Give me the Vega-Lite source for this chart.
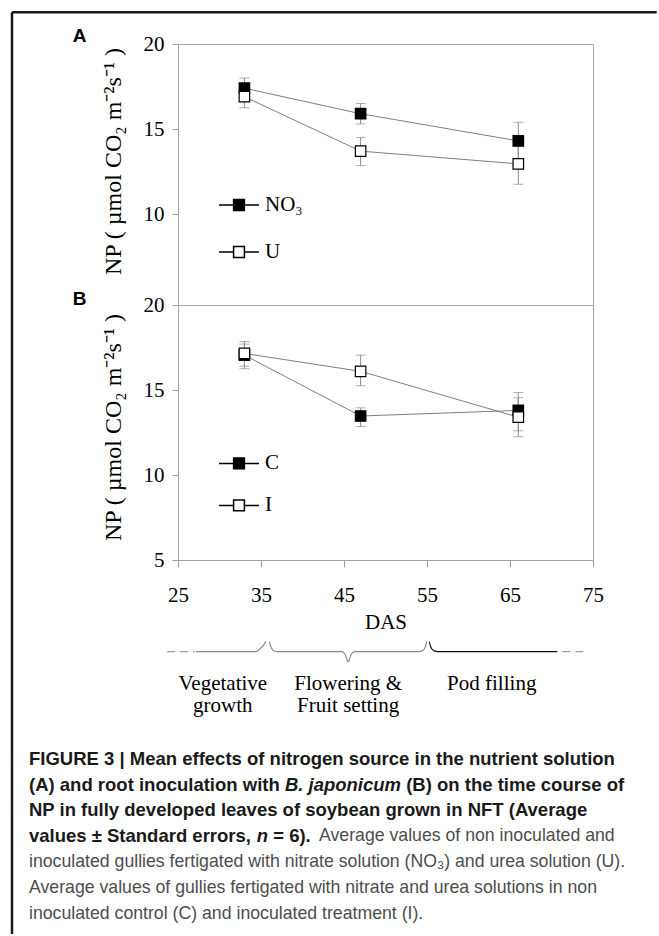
{
  "$schema": "https://vega.github.io/schema/vega-lite/v6.json",
  "background": "white",
  "padding": {"left": 10, "top": 10, "right": 0, "bottom": 0},
  "bounds": "flush",
  "spacing": 0,
  "resolve": {"scale": {"fill": "independent"}, "legend": {"fill": "independent"}},
  "config": {
    "view": {"stroke": "#a8a8a8", "strokeWidth": 1},
    "axis": {"domainColor": "#a0a0a0", "tickColor": "#a0a0a0", "labelColor": "#000", "labelFont": "Liberation Serif", "labelFontSize": 21, "titleFont": "Liberation Serif", "titleFontSize": 21, "titleFontWeight": "normal", "titleColor": "#000", "grid": false, "labelFlush": false}
  },
  "datasets": {
    "np": [
      {"panel": "A", "series": "NO₃", "das": 33, "np": 17.4, "lo": 16.8, "hi": 18.0},
      {"panel": "A", "series": "NO₃", "das": 47, "np": 15.9, "lo": 15.3, "hi": 16.5},
      {"panel": "A", "series": "NO₃", "das": 66, "np": 14.3, "lo": 13.2, "hi": 15.4},
      {"panel": "A", "series": "U", "das": 33, "np": 16.9, "lo": 16.25, "hi": 17.55},
      {"panel": "A", "series": "U", "das": 47, "np": 13.7, "lo": 12.85, "hi": 14.5},
      {"panel": "A", "series": "U", "das": 66, "np": 12.95, "lo": 11.75, "hi": 14.1},
      {"panel": "B", "series": "C", "das": 33, "np": 17.05, "lo": 16.25, "hi": 17.7},
      {"panel": "B", "series": "C", "das": 47, "np": 13.47, "lo": 12.85, "hi": 13.95},
      {"panel": "B", "series": "C", "das": 66, "np": 13.8, "lo": 12.6, "hi": 14.85},
      {"panel": "B", "series": "I", "das": 33, "np": 17.15, "lo": 16.4, "hi": 17.85},
      {"panel": "B", "series": "I", "das": 47, "np": 16.1, "lo": 15.25, "hi": 17.05},
      {"panel": "B", "series": "I", "das": 66, "np": 13.4, "lo": 12.25, "hi": 14.55}
    ],
    "brace": [
      {"phase": "before", "das": 23.7, "y": 0},
      {"phase": "before", "das": 27.0, "y": 0},
      {"phase": "Vegetative growth", "das": 27.17, "y": 0},
      {"phase": "Vegetative growth", "das": 34.3, "y": 0},
      {"phase": "Vegetative growth", "das": 34.9, "y": 0.3},
      {"phase": "Vegetative growth", "das": 35.6, "y": 1.0},
      {"phase": "Flowering & Fruit setting", "das": 36.0, "y": 1.0},
      {"phase": "Flowering & Fruit setting", "das": 36.25, "y": 0.4},
      {"phase": "Flowering & Fruit setting", "das": 36.6, "y": 0.08},
      {"phase": "Flowering & Fruit setting", "das": 37.2, "y": 0},
      {"phase": "Flowering & Fruit setting", "das": 44.7, "y": 0},
      {"phase": "Flowering & Fruit setting", "das": 45.15, "y": -0.3},
      {"phase": "Flowering & Fruit setting", "das": 45.5, "y": -1.0},
      {"phase": "Flowering & Fruit setting", "das": 45.85, "y": -0.3},
      {"phase": "Flowering & Fruit setting", "das": 46.3, "y": 0},
      {"phase": "Flowering & Fruit setting", "das": 53.8, "y": 0},
      {"phase": "Flowering & Fruit setting", "das": 54.4, "y": 0.08},
      {"phase": "Flowering & Fruit setting", "das": 54.75, "y": 0.4},
      {"phase": "Flowering & Fruit setting", "das": 54.95, "y": 1.0},
      {"phase": "Pod filling", "das": 55.28, "y": 1.0},
      {"phase": "Pod filling", "das": 55.5, "y": 0.4},
      {"phase": "Pod filling", "das": 55.9, "y": 0.08},
      {"phase": "Pod filling", "das": 56.5, "y": 0},
      {"phase": "Pod filling", "das": 70.7, "y": 0},
      {"phase": "after", "das": 71.3, "y": 0},
      {"phase": "after", "das": 74.3, "y": 0}
    ],
    "stages": [
      {"phase": "Vegetative growth", "label": "Vegetative\ngrowth", "mid": 30.4},
      {"phase": "Flowering & Fruit setting", "label": "Flowering &\nFruit setting", "mid": 45.5},
      {"phase": "Pod filling", "label": "Pod filling", "mid": 62.8}
    ],
    "caption": [
      {"line": 1, "seg": "a", "text": "FIGURE 3 | Mean effects of nitrogen source in the nutrient solution"},
      {"line": 2, "seg": "a", "text": "(A) and root inoculation with"},
      {"line": 2, "seg": "b", "text": "B. japonicum"},
      {"line": 2, "seg": "c", "text": "(B) on the time course of"},
      {"line": 3, "seg": "a", "text": "NP in fully developed leaves of soybean grown in NFT (Average"},
      {"line": 4, "seg": "a", "text": "values ± Standard errors,"},
      {"line": 4, "seg": "b", "text": "n"},
      {"line": 4, "seg": "c", "text": "= 6)."},
      {"line": 4, "seg": "d", "text": "Average values of non inoculated and"},
      {"line": 5, "seg": "a", "text": "inoculated gullies fertigated with nitrate solution (NO₃) and urea solution (U)."},
      {"line": 6, "seg": "a", "text": "Average values of gullies fertigated with nitrate and urea solutions in non"},
      {"line": 7, "seg": "a", "text": "inoculated control (C) and inoculated treatment (I)."}
    ]
  },
  "vconcat": [
    {
      "width": 415,
      "height": 261,
      "data": {"name": "np"},
      "transform": [{"filter": "datum.panel == 'A'"}],
      "layer": [
        {
          "mark": {"type": "rule", "color": "#8c8c8c", "strokeWidth": 1},
          "encoding": {
            "x": {"field": "das", "type": "quantitative", "scale": {"domain": [25, 75], "nice": false, "zero": false}, "axis": null},
            "y": {"field": "lo", "type": "quantitative", "scale": {"domain": [4.65, 20], "nice": false, "zero": false},
              "axis": {"values": [10, 15, 20], "title": "NP ( µmol CO₂ m⁻²s⁻¹ )", "titleFontSize": 24, "tickSize": 6, "labelPadding": 8, "titleX": -64.5, "titleY": 117, "titleBaseline": "middle", "titleAlign": "center", "titleAngle": 270}},
            "y2": {"field": "hi"}
          }
        },
        {
          "data": {"values": [{"edge": "top"}]},
          "mark": {"type": "rule", "color": "#1a1a1a", "strokeWidth": 2.5},
          "encoding": {
            "x": {"datum": 5.0, "type": "quantitative", "scale": {"domain": [25, 75], "nice": false, "zero": false}, "axis": null},
            "x2": {"datum": 82.68},
            "y": {"datum": 21.864, "type": "quantitative", "scale": {"domain": [4.65, 20], "nice": false, "zero": false}}
          }
        },
        {
          "data": {"values": [{"edge": "left"}]},
          "mark": {"type": "rule", "color": "#1a1a1a", "strokeWidth": 2.5},
          "encoding": {
            "x": {"datum": 5.0, "type": "quantitative", "scale": {"domain": [25, 75], "nice": false, "zero": false}, "axis": null},
            "y": {"datum": 21.864, "type": "quantitative", "scale": {"domain": [4.65, 20], "nice": false, "zero": false}},
            "y2": {"datum": -32.35}
          }
        },
        {
          "data": {"values": [{"panel": "A"}]},
          "mark": {"type": "text", "font": "Liberation Sans", "fontWeight": "bold", "fontSize": 19, "align": "center", "baseline": "middle", "color": "#000"},
          "encoding": {
            "x": {"datum": 13.16, "type": "quantitative", "scale": {"domain": [25, 75], "nice": false, "zero": false}, "axis": null},
            "y": {"datum": 20.45, "type": "quantitative", "scale": {"domain": [4.65, 20], "nice": false, "zero": false}},
            "text": {"field": "panel"}
          }
        },
        {
          "mark": {"type": "tick", "orient": "horizontal", "size": 10, "thickness": 1, "color": "#8c8c8c"},
          "encoding": {
            "x": {"field": "das", "type": "quantitative", "scale": {"domain": [25, 75], "nice": false, "zero": false}, "axis": null},
            "y": {"field": "lo", "type": "quantitative", "scale": {"domain": [4.65, 20], "nice": false, "zero": false}}
          }
        },
        {
          "mark": {"type": "tick", "orient": "horizontal", "size": 10, "thickness": 1, "color": "#8c8c8c"},
          "encoding": {
            "x": {"field": "das", "type": "quantitative", "scale": {"domain": [25, 75], "nice": false, "zero": false}, "axis": null},
            "y": {"field": "hi", "type": "quantitative", "scale": {"domain": [4.65, 20], "nice": false, "zero": false}}
          }
        },
        {
          "mark": {"type": "line", "color": "#7f7f7f", "strokeWidth": 1},
          "encoding": {
            "x": {"field": "das", "type": "quantitative", "scale": {"domain": [25, 75], "nice": false, "zero": false}, "axis": null},
            "y": {"field": "np", "type": "quantitative", "scale": {"domain": [4.65, 20], "nice": false, "zero": false}},
            "detail": {"field": "series"}
          }
        },
        {
          "mark": {"type": "point", "shape": "square", "filled": true, "size": 110, "stroke": "#000", "strokeWidth": 1.2, "opacity": 1},
          "encoding": {
            "x": {"field": "das", "type": "quantitative", "scale": {"domain": [25, 75], "nice": false, "zero": false}, "axis": null},
            "y": {"field": "np", "type": "quantitative", "scale": {"domain": [4.65, 20], "nice": false, "zero": false}},
            "fill": {"field": "series", "type": "nominal", "scale": {"domain": ["NO₃", "U"], "range": ["#000000", "#ffffff"]},
              "legend": {"orient": "none", "legendX": 40, "legendY": 140, "title": null, "padding": 0, "symbolSize": 1600, "labelOffset": 5, "rowPadding": 16, "labelFont": "Liberation Serif", "labelFontSize": 21, "labelColor": "#000",
                "symbolType": "M-1,0H-0.27M0.27,0H1M-0.27,-0.27H0.27V0.27H-0.27Z",
                "encode": {"symbols": {"update": {"shape": {"value": "M-1,0H-0.27M0.27,0H1M-0.27,-0.27H0.27V0.27H-0.27Z"}, "size": {"value": 1600}, "stroke": {"value": "#333"}, "strokeWidth": {"value": 1.1}, "opacity": {"value": 1}}}}}}
          }
        }
      ]
    },
    {
      "width": 415,
      "height": 255,
      "data": {"name": "np"},
      "transform": [{"filter": "datum.panel == 'B'"}],
      "layer": [
        {
          "mark": {"type": "rule", "color": "#8c8c8c", "strokeWidth": 1},
          "encoding": {
            "x": {"field": "das", "type": "quantitative", "scale": {"domain": [25, 75], "nice": false, "zero": false},
              "axis": {"values": [25, 35, 45, 55, 65, 75], "title": "DAS", "tickSize": 7, "labelPadding": 17, "titlePadding": 6}},
            "y": {"field": "lo", "type": "quantitative", "scale": {"domain": [5, 20], "nice": false, "zero": false},
              "axis": {"values": [5, 10, 15, 20], "title": "NP ( µmol CO₂ m⁻²s⁻¹ )", "titleFontSize": 24, "tickSize": 6, "labelPadding": 8, "titleX": -64.5, "titleY": 122, "titleBaseline": "middle", "titleAlign": "center", "titleAngle": 270}},
            "y2": {"field": "hi"}
          }
        },
        {
          "data": {"values": [{"panel": "B"}]},
          "mark": {"type": "text", "font": "Liberation Sans", "fontWeight": "bold", "fontSize": 19, "align": "center", "baseline": "middle", "color": "#000"},
          "encoding": {
            "x": {"datum": 13.16, "type": "quantitative", "scale": {"domain": [25, 75], "nice": false, "zero": false}},
            "y": {"datum": 20.37, "type": "quantitative", "scale": {"domain": [5, 20], "nice": false, "zero": false}},
            "text": {"field": "panel"}
          }
        },
        {
          "mark": {"type": "tick", "orient": "horizontal", "size": 10, "thickness": 1, "color": "#8c8c8c"},
          "encoding": {
            "x": {"field": "das", "type": "quantitative", "scale": {"domain": [25, 75], "nice": false, "zero": false}},
            "y": {"field": "lo", "type": "quantitative", "scale": {"domain": [5, 20], "nice": false, "zero": false}}
          }
        },
        {
          "mark": {"type": "tick", "orient": "horizontal", "size": 10, "thickness": 1, "color": "#8c8c8c"},
          "encoding": {
            "x": {"field": "das", "type": "quantitative", "scale": {"domain": [25, 75], "nice": false, "zero": false}},
            "y": {"field": "hi", "type": "quantitative", "scale": {"domain": [5, 20], "nice": false, "zero": false}}
          }
        },
        {
          "mark": {"type": "line", "color": "#7f7f7f", "strokeWidth": 1},
          "encoding": {
            "x": {"field": "das", "type": "quantitative", "scale": {"domain": [25, 75], "nice": false, "zero": false}},
            "y": {"field": "np", "type": "quantitative", "scale": {"domain": [5, 20], "nice": false, "zero": false}},
            "detail": {"field": "series"}
          }
        },
        {
          "mark": {"type": "point", "shape": "square", "filled": true, "size": 110, "stroke": "#000", "strokeWidth": 1.2, "opacity": 1},
          "encoding": {
            "x": {"field": "das", "type": "quantitative", "scale": {"domain": [25, 75], "nice": false, "zero": false}},
            "y": {"field": "np", "type": "quantitative", "scale": {"domain": [5, 20], "nice": false, "zero": false}},
            "fill": {"field": "series", "type": "nominal", "scale": {"domain": ["C", "I"], "range": ["#000000", "#ffffff"]},
              "legend": {"orient": "none", "legendX": 40, "legendY": 137.4, "title": null, "padding": 0, "symbolSize": 1600, "labelOffset": 5, "rowPadding": 11, "labelFont": "Liberation Serif", "labelFontSize": 21, "labelColor": "#000",
                "symbolType": "M-1,0H-0.27M0.27,0H1M-0.27,-0.27H0.27V0.27H-0.27Z",
                "encode": {"symbols": {"update": {"shape": {"value": "M-1,0H-0.27M0.27,0H1M-0.27,-0.27H0.27V0.27H-0.27Z"}, "size": {"value": 1600}, "stroke": {"value": "#333"}, "strokeWidth": {"value": 1.1}, "opacity": {"value": 1}}}}}}
          }
        }
      ]
    },
    {
      "width": 415,
      "height": 160,
      "view": {"stroke": null},
      "layer": [
        {
          "data": {"name": "brace"},
          "mark": {"type": "line", "interpolate": "monotone", "strokeWidth": 1.2},
          "encoding": {
            "x": {"field": "das", "type": "quantitative", "scale": {"domain": [25, 75], "nice": false, "zero": false}, "axis": null},
            "y": {"field": "y", "type": "quantitative", "scale": {"domain": [-6.83, 9.17], "nice": false, "zero": false}, "axis": null},
            "detail": {"field": "phase"},
            "color": {"field": "phase", "type": "nominal", "legend": null,
              "scale": {"domain": ["before", "Vegetative growth", "Flowering & Fruit setting", "Pod filling", "after"], "range": ["#9a9a9a", "#8a8a8a", "#8a8a8a", "#111111", "#9a9a9a"]}},
            "strokeDash": {"field": "phase", "type": "nominal", "legend": null,
              "scale": {"domain": ["before", "Vegetative growth", "Flowering & Fruit setting", "Pod filling", "after"], "range": [[8, 5], [1, 0], [1, 0], [1, 0], [8, 5]]}}
          }
        },
        {
          "data": {"name": "stages"},
          "mark": {"type": "text", "font": "Liberation Serif", "fontSize": 21, "lineBreak": "\n", "lineHeight": 22, "baseline": "top", "align": "center", "color": "#000"},
          "encoding": {
            "x": {"field": "mid", "type": "quantitative", "scale": {"domain": [25, 75], "nice": false, "zero": false}, "axis": null},
            "y": {"datum": -2.14, "type": "quantitative", "scale": {"domain": [-6.83, 9.17], "nice": false, "zero": false}, "axis": null},
            "text": {"field": "label"}
          }
        }
      ]
    },
    {
      "width": 415,
      "height": 193.5,
      "view": {"stroke": null},
      "data": {"name": "caption"},
      "encoding": {
        "x": {"datum": -149, "type": "quantitative", "scale": {"domain": [0, 415], "nice": false, "zero": false}, "axis": null},
        "y": {"field": "line", "type": "quantitative", "scale": {"domain": [-0.5, 7], "reverse": true, "nice": false, "zero": false}, "axis": null},
        "text": {"field": "text"}
      },
      "layer": [
        {"transform": [{"filter": "datum.seg == 'a' && datum.line <= 4"}],
         "mark": {"type": "text", "font": "Liberation Sans", "fontSize": 18.5, "fontWeight": "bold", "align": "left", "baseline": "middle", "color": "#1a1a1a"}},
        {"transform": [{"filter": "datum.seg == 'b' && datum.line == 2"}],
         "mark": {"type": "text", "font": "Liberation Sans", "fontSize": 18.5, "fontWeight": "bold", "fontStyle": "italic", "align": "left", "baseline": "middle", "color": "#1a1a1a", "dx": 255.9}},
        {"transform": [{"filter": "datum.seg == 'c' && datum.line == 2"}],
         "mark": {"type": "text", "font": "Liberation Sans", "fontSize": 18.5, "fontWeight": "bold", "align": "left", "baseline": "middle", "color": "#1a1a1a", "dx": 377.2}},
        {"transform": [{"filter": "datum.seg == 'b' && datum.line == 4"}],
         "mark": {"type": "text", "font": "Liberation Sans", "fontSize": 18.5, "fontWeight": "bold", "fontStyle": "italic", "align": "left", "baseline": "middle", "color": "#1a1a1a", "dx": 227.8}},
        {"transform": [{"filter": "datum.seg == 'c' && datum.line == 4"}],
         "mark": {"type": "text", "font": "Liberation Sans", "fontSize": 18.5, "fontWeight": "bold", "align": "left", "baseline": "middle", "color": "#1a1a1a", "dx": 244.2}},
        {"transform": [{"filter": "datum.seg == 'd' && datum.line == 4"}],
         "mark": {"type": "text", "font": "Liberation Sans", "fontSize": 17.7, "align": "left", "baseline": "middle", "color": "#4d4d4d", "dx": 290}},
        {"transform": [{"filter": "datum.seg == 'a' && datum.line >= 5"}],
         "mark": {"type": "text", "font": "Liberation Sans", "fontSize": 17.7, "align": "left", "baseline": "middle", "color": "#4d4d4d"}}
      ]
    }
  ]
}
